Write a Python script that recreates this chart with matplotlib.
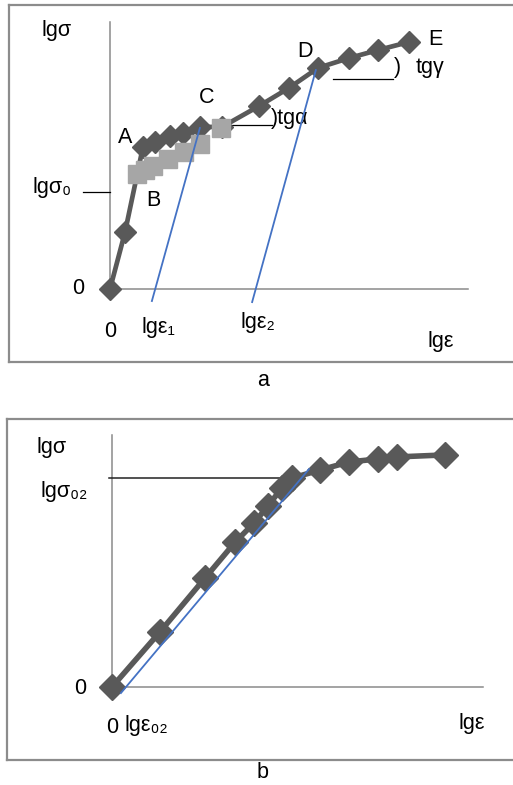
import matplotlib
matplotlib.use("Agg")
import matplotlib.pyplot as plt

plt.rcParams['font.family'] = ['Liberation Sans', 'DejaVu Sans']

W, H, DPI = 513, 785, 100

DARK = '#595959'
LIGHT = '#a6a6a6'
BLUE = '#4472c4'
FRAME = '#8c8c8c'

# ---- panel a: log-log stress-strain curve with stages A..E
a_eps = [0, 0.42, 0.92, 1.26, 1.68, 2.04, 2.51, 3.13, 4.16, 5.00, 5.81, 6.68, 7.49, 8.35]
a_sig = [0, 2.13, 5.32, 5.51, 5.73, 5.84, 6.07, 6.07, 6.85, 7.53, 8.28, 8.65, 8.95, 9.25]
b_eps = [0.75, 0.98, 1.20, 1.62, 2.07, 2.51, 3.10]
b_sig = [4.31, 4.46, 4.61, 4.87, 5.13, 5.43, 6.03]
tan1_eps = [1.17, 2.51]
tan1_sig = [-0.45, 6.03]
tan2_eps = [3.97, 5.75]
tan2_sig = [-0.49, 8.20]
sig0_level = 3.63
alpha_level, alpha_span = 6.14, [3.13, 4.53]
gamma_level, gamma_span = 7.87, [6.23, 7.91]

# ---- panel b: conventional yield point
c_eps = [0, 1.29, 2.51, 3.32, 3.83, 4.20, 4.58, 4.85, 5.61, 6.39, 7.17, 7.68, 8.98]
c_sig = [0, 2.18, 4.33, 5.75, 6.51, 7.18, 7.90, 8.29, 8.61, 8.93, 9.05, 9.13, 9.21]
tan3_eps = [0.24, 5.31]
tan3_sig = [-0.24, 8.65]
sig02_level, sig02_span = 8.29, [-0.08, 4.66]


def make_panel(fig, frame, origin, scale):
    """frame = (left, top, right, bottom) px, origin = px of (0, 0), scale = px per unit"""
    l, t, r, b = frame
    ox, oy = origin
    sx, sy = scale
    ax = fig.add_axes([l / W, 1 - b / H, (r - l) / W, (b - t) / H])
    ax.set_xlim((l - ox) / sx, (r - ox) / sx)
    ax.set_ylim((oy - b) / sy, (oy - t) / sy)
    ax.set_xticks([])
    ax.set_yticks([])
    for s in ax.spines.values():
        s.set_color(FRAME)
        s.set_linewidth(1.6)
    ax.spines['right'].set_visible(False)
    ax.patch.set_alpha(0)
    return ax


def axes_lines(ax):
    ax.plot([0, 10], [0, 0], color='#8a8a8a', lw=1.1, zorder=1)
    ax.plot([0, 0], [0, 10], color='#8a8a8a', lw=1.1, zorder=1)


fig = plt.figure(figsize=(W / DPI, H / DPI), dpi=DPI)
fs = 15.5

# panel a
ax = make_panel(fig, (9, 5, 525, 362), (110, 289), (35.8, 26.7))
axes_lines(ax)
ax.plot([-0.75, 0], [sig0_level, sig0_level], color='black', lw=0.9)
ax.plot(alpha_span, [alpha_level] * 2, color='black', lw=0.9)
ax.plot(gamma_span, [gamma_level] * 2, color='black', lw=0.9)
ax.plot(a_eps, a_sig, color=DARK, lw=3.4, marker='D', ms=11, zorder=3)
ax.plot(b_eps, b_sig, color=LIGHT, lw=0, marker='s', ms=13.5, zorder=4)
ax.plot(tan1_eps, tan1_sig, color=BLUE, lw=1.3, zorder=5)
ax.plot(tan2_eps, tan2_sig, color=BLUE, lw=1.3, zorder=5)

ax.text(-1.48, 9.70, 'lgσ', fontsize=fs, ha='center', va='center')
ax.text(-1.62, 3.82, 'lgσ₀', fontsize=fs, ha='center', va='center')
ax.text(-0.89, 0, '0', fontsize=fs, ha='center', va='center')
ax.text(0, -1.61, '0', fontsize=fs, ha='center', va='center')
ax.text(1.34, -1.46, 'lgε₁', fontsize=fs, ha='center', va='center')
ax.text(4.13, -1.27, 'lgε₂', fontsize=fs, ha='center', va='center')
ax.text(9.25, -1.95, 'lgε', fontsize=fs, ha='center', va='center')
ax.text(0.42, 5.69, 'A', fontsize=fs, ha='center', va='center')
ax.text(1.20, 3.30, 'B', fontsize=fs, ha='center', va='center')
ax.text(2.71, 7.19, 'C', fontsize=fs, ha='center', va='center')
ax.text(5.45, 8.91, 'D', fontsize=fs, ha='center', va='center')
ax.text(9.08, 9.36, 'E', fontsize=fs, ha='center', va='center')
ax.text(4.50, 6.40, ')tgα', fontsize=fs, ha='left', va='center')
ax.text(8.02, 8.28, ')', fontsize=fs, ha='center', va='center')
ax.text(8.94, 8.28, 'tgγ', fontsize=fs, ha='center', va='center')

# panel b
bx = make_panel(fig, (7, 419, 525, 760), (112, 687), (37.1, 25.2))
axes_lines(bx)
bx.plot(sig02_span, [sig02_level] * 2, color='#222222', lw=1.1)
bx.plot(c_eps, c_sig, color=DARK, lw=4.0, marker='D', ms=13, zorder=3)
bx.plot(tan3_eps, tan3_sig, color=BLUE, lw=1.3, zorder=5)

bx.text(-1.64, 9.52, 'lgσ', fontsize=fs, ha='center', va='center')
bx.text(-1.29, 7.74, 'lgσ₀₂', fontsize=fs, ha='center', va='center')
bx.text(-0.86, -0.04, '0', fontsize=fs, ha='center', va='center')
bx.text(0, -1.59, '0', fontsize=fs, ha='center', va='center')
bx.text(0.92, -1.51, 'lgε₀₂', fontsize=fs, ha='center', va='center')
bx.text(9.70, -1.43, 'lgε', fontsize=fs, ha='center', va='center')

fig.text(263 / W, 1 - 380 / H, 'a', fontsize=fs, ha='center', va='center')
fig.text(263 / W, 1 - 773 / H, 'b', fontsize=fs, ha='center', va='center')

fig.savefig('out.png', dpi=DPI)
